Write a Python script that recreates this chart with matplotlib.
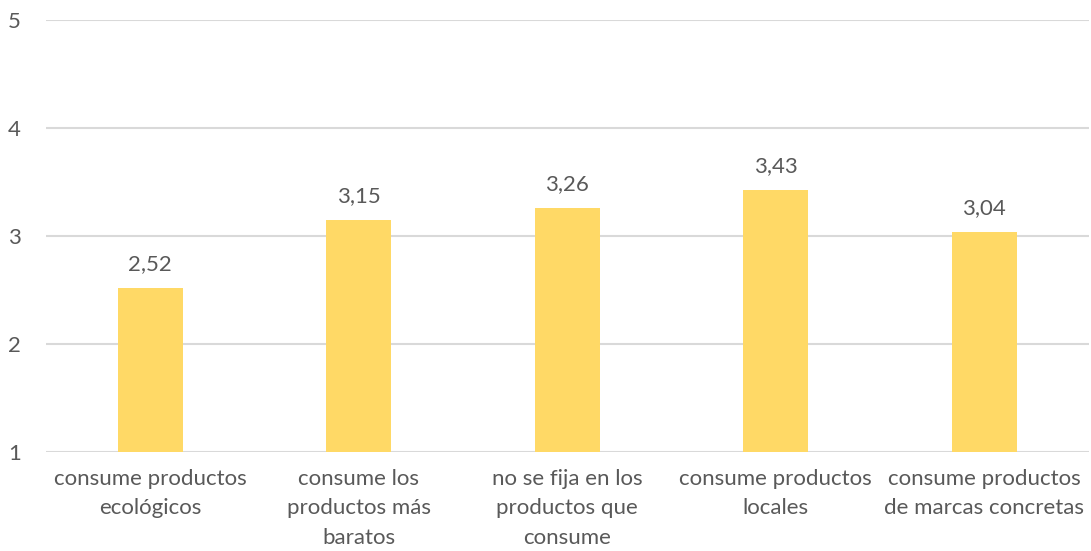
import matplotlib
matplotlib.use("Agg")
import matplotlib.pyplot as plt

# Valoración media de hábitos de consumo (escala 1-5)
categorias = [
    "consume productos\necológicos",
    "consume los\nproductos más\nbaratos",
    "no se fija en los\nproductos que\nconsume",
    "consume productos\nlocales",
    "consume productos\nde marcas concretas",
]
valores = [2.52, 3.15, 3.26, 3.43, 3.04]
ticks_y = [1, 2, 3, 4, 5]

COLOR_BARRA = "#FFD966"
COLOR_TEXTO = "#595959"
COLOR_REJILLA = "#D9D9D9"

plt.rcParams["font.family"] = ["Lato", "DejaVu Sans"]

fig = plt.figure(figsize=(10.91, 5.51), dpi=100)
ax = fig.add_axes([46 / 1091, 99 / 551, 1042.5 / 1091, 432 / 551])

x = list(range(len(categorias)))
ax.bar(x, [v - 1 for v in valores], bottom=1, width=0.31,
       color=COLOR_BARRA, zorder=3)

for xi, v in zip(x, valores):
    ax.annotate(f"{v:.2f}".replace(".", ","), (xi, v), xytext=(0, 10),
                textcoords="offset points", ha="center", va="bottom",
                fontsize=16, color=COLOR_TEXTO)

ax.set_xlim(-0.5, 4.5)
ax.set_ylim(1, 5)
ax.set_yticks(ticks_y)
ax.set_xticks(x)
ax.set_xticklabels(categorias, fontsize=16, color=COLOR_TEXTO, linespacing=1.6)
ax.tick_params(axis="y", labelsize=16, labelcolor=COLOR_TEXTO, length=0, pad=18)
ax.tick_params(axis="x", length=0, pad=12)

ax.grid(axis="y", color=COLOR_REJILLA, linewidth=1.5, zorder=0)
for s in ax.spines.values():
    s.set_visible(False)

fig.savefig("out.png", dpi=100)
